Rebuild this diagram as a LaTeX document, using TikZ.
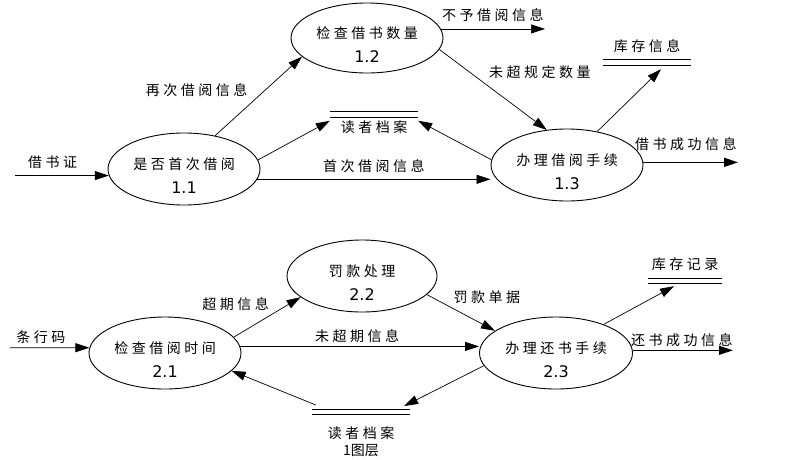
\documentclass[tikz,border=0pt]{standalone}
\usepackage{fontspec}
\newfontfamily\cjk[LetterSpace=25]{Noto Sans CJK SC}
\newfontfamily\cjktight{Noto Sans CJK SC}
\newfontfamily\numfont{DejaVu Sans}
\usetikzlibrary{arrows.meta, shapes.geometric}

\newcommand\proctext[2]{\begin{tabular}[t]{@{}c@{}}#1\\[7pt]{\numfont\fontsize{16}{19}\selectfont #2}\end{tabular}}

\begin{document}
\begin{tikzpicture}[
    x=1pt, y=-1pt,
    lbl/.style={font=\cjk\fontsize{14}{17}\selectfont},
    proc/.style={ellipse, draw, line width=0.9pt, lbl, minimum width=152pt, minimum height=72pt, inner sep=0pt, text height=0pt, text depth=0pt},
    store/.style={lbl, inner sep=0pt, text height=11pt, text depth=3pt},
    flow/.style={-{Triangle[length=14pt, width=9pt]}, line width=0.7pt}
]
\useasboundingbox (0,0) rectangle (808,459);

% borrowing
\node[proc] (p11) at (184,169) {\proctext{是否首次借阅}{1.1}};
\node[proc, minimum height=70pt] (p12) at (367,38) {\proctext{检查借书数量}{1.2}};
\node[proc] (p13) at (567,165) {\proctext{办理借阅手续}{1.3}};
\node[store, minimum width=88pt] (rd1) at (374,128) {读者档案};
\node[store, minimum width=88pt] (ks1) at (647,47) {库存信息};

\draw ([yshift=3.5pt]rd1.north west) -- ([yshift=3.5pt]rd1.north east);
\draw ([yshift=9.5pt]rd1.north west) -- ([yshift=9.5pt]rd1.north east);
\draw ([yshift=-4.5pt]ks1.south west) -- ([yshift=-4.5pt]ks1.south east);
\draw ([yshift=-10.5pt]ks1.south west) -- ([yshift=-10.5pt]ks1.south east);

\coordinate (in1) at (15,175.5);
\coordinate (out12) at (545,28);
\coordinate (out13) at (738,163);

\draw[flow] (in1) -- node[lbl, pos=0.4, above=3pt] {借书证} (p11.185);
\draw[flow] (p11.47) -- node[lbl, pos=0.575, left=14pt] {再次借阅信息} (p12.196);
\draw[flow] (p11.7) -- (rd1.north west);
\draw[flow] (p11.352) -- node[lbl, pos=0.5, above=3pt] {首次借阅信息} (p11.352 -| p13.west);
\draw[flow] (p12.7) -- node[lbl, above=4pt] {不予借阅信息} (p12.7 -| out12);
\draw[flow] (p12.351) -- node[lbl, pos=0.28, right=16pt] {未超规定数量} (p13.120);
\draw[flow] (p13.176) -- (rd1.north east);
\draw[flow] (p13.48) -- ([xshift=14pt, yshift=-15pt]ks1.south);
\draw[flow, line width=1.6pt] (p13.2) -- node[lbl, pos=0.45, above=7pt] {借书成功信息} (p13.2 -| out13);

% returning
\node[proc] (p21) at (165,353) {\proctext{检查借阅时间}{2.1}};
\node[proc, minimum width=150pt] (p22) at (362,276) {\proctext{罚款处理}{2.2}};
\node[proc, minimum width=153pt] (p23) at (556,353) {\proctext{办理还书手续}{2.3}};
\node[store, minimum width=74pt] (kc2) at (685,265) {库存记录};
\node[lbl, inner sep=0pt, align=center, minimum width=98pt, anchor=north] (rd2) at (361,426) {读者档案\\{\cjktight 1图层}};

\draw ([yshift=-5.5pt]kc2.south west) -- ([yshift=-5.5pt]kc2.south east);
\draw ([yshift=-10.5pt]kc2.south west) -- ([yshift=-10.5pt]kc2.south east);
\draw ([yshift=17pt]rd2.north west) -- ([yshift=17pt]rd2.north east);
\draw ([yshift=12pt]rd2.north west) -- ([yshift=12pt]rd2.north east);

\coordinate (in2) at (10,347.7);
\coordinate (out23) at (733,351);

\draw[flow] (in2) -- node[lbl, pos=0.39, above=0pt] {条行码} (p21.176);
\draw[flow] (p21.13) -- node[lbl, pos=0.58, above left=0pt] {超期信息} (p22.199);
\draw[flow] (p21.5) -- node[lbl, pos=0.49, above=0pt] {未超期信息} (p21.5 -| p23.west);
\draw[flow] (p22.344) -- node[lbl, pos=0.34, above right=0pt] {罚款单据} (p23.160);
\draw[flow] (p23.31) -- ([xshift=-11pt, yshift=-14pt]kc2.south);
\draw[flow, line width=1.1pt] (p23.2) -- node[lbl, pos=0.49, above=0pt] {还书成功信息} (p23.2 -| out23);
\draw[flow] (p23.190) -- ([xshift=-6pt, yshift=20pt]rd2.north east);
\draw[flow] ([xshift=4pt, yshift=21pt]rd2.north west) -- (p21.345);
\end{tikzpicture}
\end{document}
